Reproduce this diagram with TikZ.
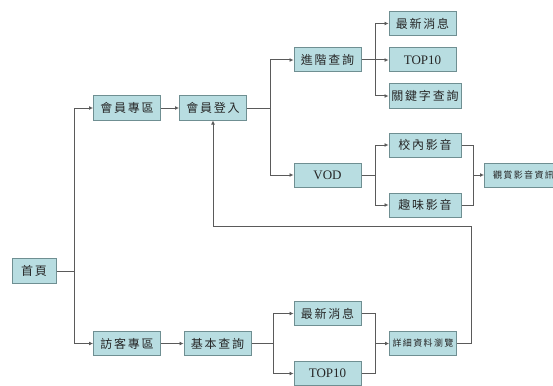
\documentclass[tikz,border=0pt]{standalone}
\usepackage{fontspec}
\setmainfont{Liberation Serif}
\newfontfamily\cjk[LetterSpace=15]{Noto Sans CJK TC}
\usetikzlibrary{arrows.meta}
\definecolor{boxfill}{HTML}{B8DDE1}
\definecolor{boxline}{HTML}{6F8F92}
\definecolor{wirecol}{HTML}{5A5A5A}
\begin{document}
\begin{tikzpicture}[x=1pt,y=-1pt,
 box/.style={draw=boxline, fill=boxfill, line width=1pt, minimum width=67pt, minimum height=24pt, inner sep=0pt, font=\cjk\fontsize{12}{13}\selectfont, text=black!85},
 wide/.style={box, minimum width=72pt},
 small/.style={font=\cjk\fontsize{9}{10}\selectfont},
 latin/.style={font=\fontsize{13}{14}\selectfont},
 wire/.style={draw=wirecol, line width=1pt},
 arr/.style={wire, -{Latex[length=4pt,width=4pt]}}]
\useasboundingbox (0,0) rectangle (553,385);
\clip (0,0) rectangle (553,385);
\fill[white] (0,0) rectangle (553,385);
% nodes
\node[box, minimum width=44pt, minimum height=25pt] (home) at (34,271) {首頁};
\node[box] (member) at (127,108) {會員專區};
\node[box] (login) at (213,108) {會員登入};
\node[box] (adv) at (327.5,60) {進階查詢};
\node[box,latin] (vod) at (327.5,175) {VOD};
\node[box] (news1) at (422.5,23.5) {最新消息};
\node[box,latin] (top1) at (422.5,60) {TOP10};
\node[wide] (kw) at (425,96) {關鍵字查詢};
\node[wide] (campus) at (425,145) {校內影音};
\node[wide] (fun) at (425,205) {趣味影音};
\node[box, small, minimum width=78pt, anchor=west] (watch) at (484,175) {觀賞影音資訊};
\node[box] (guest) at (127,343.5) {訪客專區};
\node[box] (basic) at (217.5,343.5) {基本查詢};
\node[box] (news2) at (327.5,313.5) {最新消息};
\node[box,latin] (top2) at (327.5,373.5) {TOP10};
\node[box,small] (detail) at (423,343.5) {詳細資料瀏覽};
% junctions
\coordinate (j1) at (74,271);
\coordinate (j2) at (270,108);
\coordinate (j3) at (375,60);
\coordinate (j4) at (375,175);
\coordinate (j5) at (473,175);
\coordinate (j6) at (273,343.5);
\coordinate (j7) at (375,343.5);
\coordinate (r1) at (471,226);
% connectors
\draw[wire] (home.east) -- (j1);
\draw[arr] (j1) |- (member.west);
\draw[arr] (j1) |- (guest.west);
\draw[arr] (member) -- (login);
\draw[arr] (guest) -- (basic);
\draw[wire] (login.east) -- (j2);
\draw[arr] (j2) |- (adv.west);
\draw[arr] (j2) |- (vod.west);
\draw[wire] (adv.east) -- (j3);
\draw[arr] (j3) |- (news1.west);
\draw[arr] (j3) -- (top1.west);
\draw[arr] (j3) |- (kw.west);
\draw[wire] (vod.east) -- (j4);
\draw[arr] (j4) |- (campus.west);
\draw[arr] (j4) |- (fun.west);
\draw[wire] (campus.east) -| (j5);
\draw[wire] (fun.east) -| (j5);
\draw[arr] (j5) -- (watch.west);
\draw[wire] (basic.east) -- (j6);
\draw[arr] (j6) |- (news2.west);
\draw[arr] (j6) |- (top2.west);
\draw[wire] (news2.east) -| (j7);
\draw[wire] (top2.east) -| (j7);
\draw[arr] (j7) -- (detail.west);
\draw[arr] (detail.east) -| (r1) -| (login.south);
\end{tikzpicture}
\end{document}
